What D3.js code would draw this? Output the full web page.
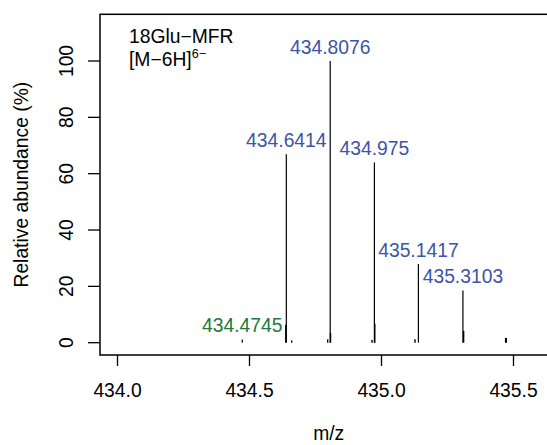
<!DOCTYPE html>
<html><head><meta charset="utf-8">
<script src="https://cdn.jsdelivr.net/npm/d3@7"></script>
<style>
html,body{margin:0;padding:0;background:#fff;}
svg{display:block;font-family:"Liberation Sans",Arial,Helvetica,sans-serif;}
</style></head>
<body>
<svg id="c" width="547" height="445"></svg>
<script>
// Main labelled peaks
const mzMain = [434.4745, 434.6414, 434.8076, 434.975, 435.1417, 435.3103];
const intMain = [1.1, 66.9, 100, 64.0, 27.9, 18.5];
const labelMain = ["434.4745", "434.6414", "434.8076", "434.975", "435.1417", "435.3103"];
const labelGroup = ["green", "blue", "blue", "blue", "blue", "blue"];
// Minor unlabelled peaks
const mzMinor = [434.6394, 434.6617, 434.7980, 434.8088, 434.9660, 434.9765, 435.1288, 435.3130, 435.4720, 435.4745];
const intMinor = [6.4, 0.8, 1.2, 3.5, 1.0, 6.7, 1.2, 4.2, 1.7, 1.7];
// Axis ticks
const xTicks = [434.0, 434.5, 435.0, 435.5];
const xTickLabels = ["434.0", "434.5", "435.0", "435.5"];
const yTicks = [0, 20, 40, 60, 80, 100];

const FS = 19.3;
const colors = {blue: "#3b56a6", green: "#217a3c"};
const svg = d3.select("#c");
const x = d3.scaleLinear().domain([434, 435.5]).range([117, 513]);
const y = d3.scaleLinear().domain([0, 100]).range([342.7, 61]);

const box = {l: 100, t: 14.3, r: 557.4, b: 355};

// plot box
svg.append("rect").attr("x", box.l).attr("y", box.t)
  .attr("width", box.r - box.l).attr("height", box.b - box.t)
  .attr("fill", "none").attr("stroke", "#000").attr("stroke-width", 1.5);

// x axis
const xAxis = d3.axisBottom(x).tickValues(xTicks)
  .tickFormat((d, i) => xTickLabels[i]).tickSize(11).tickPadding(17);
const gx = svg.append("g").attr("transform", `translate(0,${box.b})`).call(xAxis);
gx.select(".domain").remove();
gx.selectAll("line").attr("stroke", "#000").attr("stroke-width", 1.3);
gx.selectAll("text").attr("font-size", FS).attr("font-family", "Liberation Sans, Arial, sans-serif").attr("fill", "#000");

// y axis
const yAxis = d3.axisLeft(y).tickValues(yTicks).tickSize(12).tickPadding(0);
const gy = svg.append("g").attr("transform", `translate(${box.l},0)`).call(yAxis);
gy.select(".domain").remove();
gy.selectAll("line").attr("stroke", "#000").attr("stroke-width", 1.3);
gy.selectAll("text").attr("font-size", FS).attr("font-family", "Liberation Sans, Arial, sans-serif")
  .attr("fill", "#000").attr("text-anchor", "middle").attr("dy", null).attr("x", null)
  .attr("transform", d => `translate(-27,${y(d)}) rotate(-90)`)
  .attr("y", 0);
gy.selectAll(".tick").attr("transform", null);
gy.selectAll(".tick line").attr("transform", d => `translate(0,${y(d)})`);

// peaks
svg.append("g").selectAll("line.minor").data(mzMinor).join("line")
  .attr("x1", d => x(d)).attr("x2", d => x(d))
  .attr("y1", y(0)).attr("y2", (d, i) => y(intMinor[i]))
  .attr("stroke", "#000").attr("stroke-width", 1.4);
svg.append("g").selectAll("line.main").data(mzMain).join("line")
  .attr("x1", d => x(d)).attr("x2", d => x(d))
  .attr("y1", y(0)).attr("y2", (d, i) => y(intMain[i]))
  .attr("stroke", "#000").attr("stroke-width", 1.2);

// peak labels
svg.append("g").selectAll("text").data(mzMain).join("text")
  .attr("x", d => x(d)).attr("y", (d, i) => y(intMain[i]) - 7.5)
  .attr("text-anchor", "middle").attr("font-size", FS)
  .attr("fill", (d, i) => colors[labelGroup[i]])
  .text((d, i) => labelMain[i]);

// annotation
svg.append("text").attr("x", 129).attr("y", 43.3).attr("font-size", FS).text("18Glu\u2212MFR");
const t2 = svg.append("text").attr("x", 129).attr("y", 65.5).attr("font-size", FS);
t2.append("tspan").text("[M\u22126H]");
t2.append("tspan").attr("dy", -8).attr("font-size", 12.5).text("6\u2212");

// axis titles
svg.append("text").attr("x", 328.7).attr("y", 440).attr("text-anchor", "middle")
  .attr("font-size", FS).text("m/z");
svg.append("text").attr("transform", `translate(28,${(box.t + box.b) / 2}) rotate(-90)`)
  .attr("text-anchor", "middle").attr("font-size", FS).text("Relative abundance (%)");
</script>
</body></html>
